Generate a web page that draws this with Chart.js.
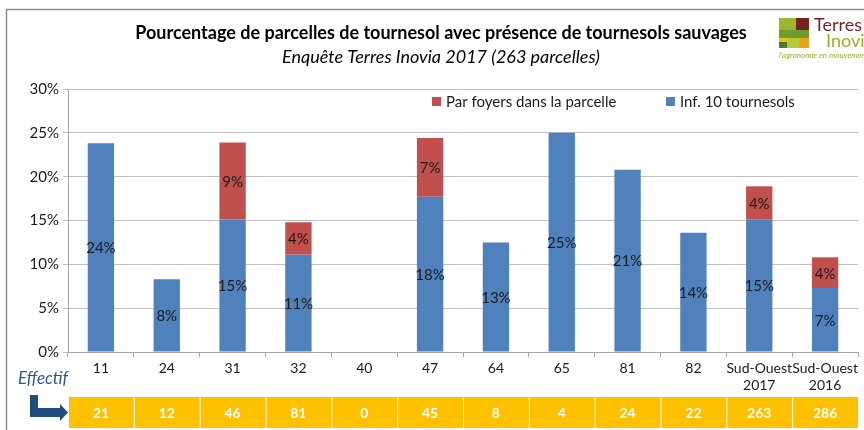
<!DOCTYPE html>
<html>
<head>
<meta charset="utf-8">
<script src="https://cdn.jsdelivr.net/npm/chart.js@4.4.1/dist/chart.umd.min.js"></script>
<style>
  html, body { margin: 0; padding: 0; background: #fff; }
  #wrap { width: 864px; height: 430px; }
</style>
</head>
<body>
<div id="wrap"><canvas id="graficoTournesol" width="864" height="430"></canvas></div>
<script>
// Données
const categories = ["11", "24", "31", "32", "40", "47", "64", "65", "81", "82", ["Sud-Ouest", "2017"], ["Sud-Ouest", "2016"]];
const inf10 = [23.8, 8.3, 15.1, 11.1, 0, 17.7, 12.5, 25.0, 20.8, 13.6, 15.1, 7.3];
const foyers = [0, 0, 8.8, 3.7, 0, 6.7, 0, 0, 0, 0, 3.8, 3.5];
const effectifs = [21, 12, 46, 81, 0, 45, 8, 4, 24, 22, 263, 286];
const yTicks = [0, 5, 10, 15, 20, 25, 30];

const police = "Lato, 'Open Sans', sans-serif";
const bleu = "#4F81BD";
const rouge = "#C0504D";

// Étiquettes au centre de chaque segment
const etiquettes = {
    id: "etiquettes",
    afterDatasetsDraw(chart) {
        const ctx = chart.ctx;
        ctx.save();
        ctx.font = "15px " + police;
        ctx.fillStyle = "#1a1a1a";
        ctx.textAlign = "center";
        ctx.textBaseline = "middle";
        chart.data.datasets.forEach((ds, i) => {
            const meta = chart.getDatasetMeta(i);
            meta.data.forEach((bar, j) => {
                const v = ds.data[j];
                if (!v) return;
                ctx.fillText(Math.round(v) + "%", bar.x, (bar.y + bar.base) / 2 + 1);
            });
        });
        ctx.restore();
    }
};

// Titre, logo, légende, tableau des effectifs
const habillage = {
    id: "habillage",
    beforeDraw(chart) {
        const ctx = chart.ctx;
        ctx.save();
        ctx.fillStyle = "#fff";
        ctx.fillRect(0, 0, chart.width, chart.height);
        // cadre
        ctx.strokeStyle = "#8c8c8c";
        ctx.lineWidth = 1.5;
        ctx.beginPath();
        ctx.moveTo(6.5, 440);
        ctx.lineTo(6.5, 9.5);
        ctx.lineTo(870, 9.5);
        ctx.stroke();
        ctx.restore();
    },
    afterDraw(chart) {
        const ctx = chart.ctx;
        const x = chart.scales.x;
        ctx.save();

        // titre
        ctx.fillStyle = "#000";
        ctx.textAlign = "center";
        ctx.textBaseline = "middle";
        ctx.font = "bold 18px " + police;
        ctx.fillText("Pourcentage de parcelles de tournesol avec présence de tournesols sauvages", 441, 33);
        ctx.font = "italic 18px " + police;
        ctx.fillText("Enquête Terres Inovia 2017 (263 parcelles)", 441, 57);

        // logo
        const blocs = [
            [779, 18, 17, 12, "#9CB52A"],
            [796, 18, 13, 12, "#7A1F1F"],
            [779, 30, 30, 8, "#6E9B2E"],
            [779, 38, 8, 4, "#F2C500"],
            [779, 42, 8, 6, "#4D7A2A"],
            [787, 38, 12, 10, "#B5C93A"],
            [799, 38, 10, 10, "#EDA318"]
        ];
        blocs.forEach(b => { ctx.fillStyle = b[4]; ctx.fillRect(b[0], b[1], b[2], b[3]); });
        ctx.textAlign = "left";
        ctx.textBaseline = "alphabetic";
        ctx.font = "18px " + police;
        ctx.fillStyle = "#7A1F1F";
        ctx.fillText("Terres", 814, 31);
        ctx.fillStyle = "#8DB526";
        ctx.fillText("Inovia", 826, 47);
        ctx.font = "italic 8px " + police;
        ctx.fillText("l'agronomie en mouvement", 779, 58);

        // légende
        ctx.font = "15px " + police;
        ctx.textBaseline = "middle";
        ctx.fillStyle = rouge;
        ctx.fillRect(432, 97, 9, 9);
        ctx.fillStyle = "#1a1a1a";
        ctx.fillText("Par foyers dans la parcelle", 446, 102);
        ctx.fillStyle = bleu;
        ctx.fillRect(666, 97, 9, 9);
        ctx.fillStyle = "#1a1a1a";
        ctx.fillText("Inf. 10 tournesols", 680, 102);

        // Effectif
        ctx.font = "italic 17px " + police;
        ctx.fillStyle = "#2F5597";
        ctx.textAlign = "center";
        ctx.fillText("Effectif", 43, 379);

        // flèche
        ctx.fillStyle = "#1F4E79";
        ctx.beginPath();
        ctx.moveTo(30, 395);
        ctx.lineTo(38, 395);
        ctx.lineTo(38, 408);
        ctx.lineTo(60, 408);
        ctx.lineTo(60, 404);
        ctx.lineTo(68, 412.5);
        ctx.lineTo(60, 421);
        ctx.lineTo(60, 417);
        ctx.lineTo(30, 417);
        ctx.closePath();
        ctx.fill();

        // tableau des effectifs
        const demi = (x.getPixelForValue(1) - x.getPixelForValue(0)) / 2;
        effectifs.forEach((n, i) => {
            const cx = x.getPixelForValue(i);
            ctx.fillStyle = "#FFC000";
            ctx.fillRect(cx - demi + 1, 397, demi * 2 - 1, 31);
            ctx.fillStyle = "#fff";
            ctx.font = "bold 14px " + police;
            ctx.fillText(String(n), cx, 413);
        });
        ctx.restore();
    }
};

new Chart(document.getElementById("graficoTournesol"), {
    type: "bar",
    data: {
        labels: categories,
        datasets: [
            {
                label: "Inf. 10 tournesols",
                data: inf10,
                backgroundColor: bleu,
                borderWidth: 0,
                categoryPercentage: 1,
                barPercentage: 0.4
            },
            {
                label: "Par foyers dans la parcelle",
                data: foyers,
                backgroundColor: rouge,
                borderWidth: 0,
                categoryPercentage: 1,
                barPercentage: 0.4
            }
        ]
    },
    options: {
        responsive: false,
        devicePixelRatio: 1,
        animation: false,
        layout: { padding: { top: 89, left: 0, right: 6, bottom: 0 } },
        plugins: {
            legend: { display: false },
            tooltip: { enabled: false }
        },
        scales: {
            x: {
                stacked: true,
                grid: {
                    offset: true,
                    drawOnChartArea: false,
                    color: "#a6a6a6",
                    tickLength: 5
                },
                border: { color: "#a6a6a6" },
                ticks: {
                    color: "#1a1a1a",
                    font: { family: police, size: 14 },
                    padding: 3,
                    maxRotation: 0,
                    autoSkip: false
                },
                afterFit(s) { s.height = 78; }
            },
            y: {
                stacked: true,
                min: 0,
                max: 30,
                afterBuildTicks(s) { s.ticks = yTicks.map(v => ({ value: v })); },
                grid: { color: "#bfbfbf", tickLength: 5 },
                border: { color: "#a6a6a6" },
                ticks: {
                    color: "#1a1a1a",
                    font: { family: police, size: 15 },
                    padding: 4,
                    callback: v => v + "%"
                },
                afterFit(s) { s.width = 68; }
            }
        }
    },
    plugins: [habillage, etiquettes]
});
</script>
</body>
</html>
